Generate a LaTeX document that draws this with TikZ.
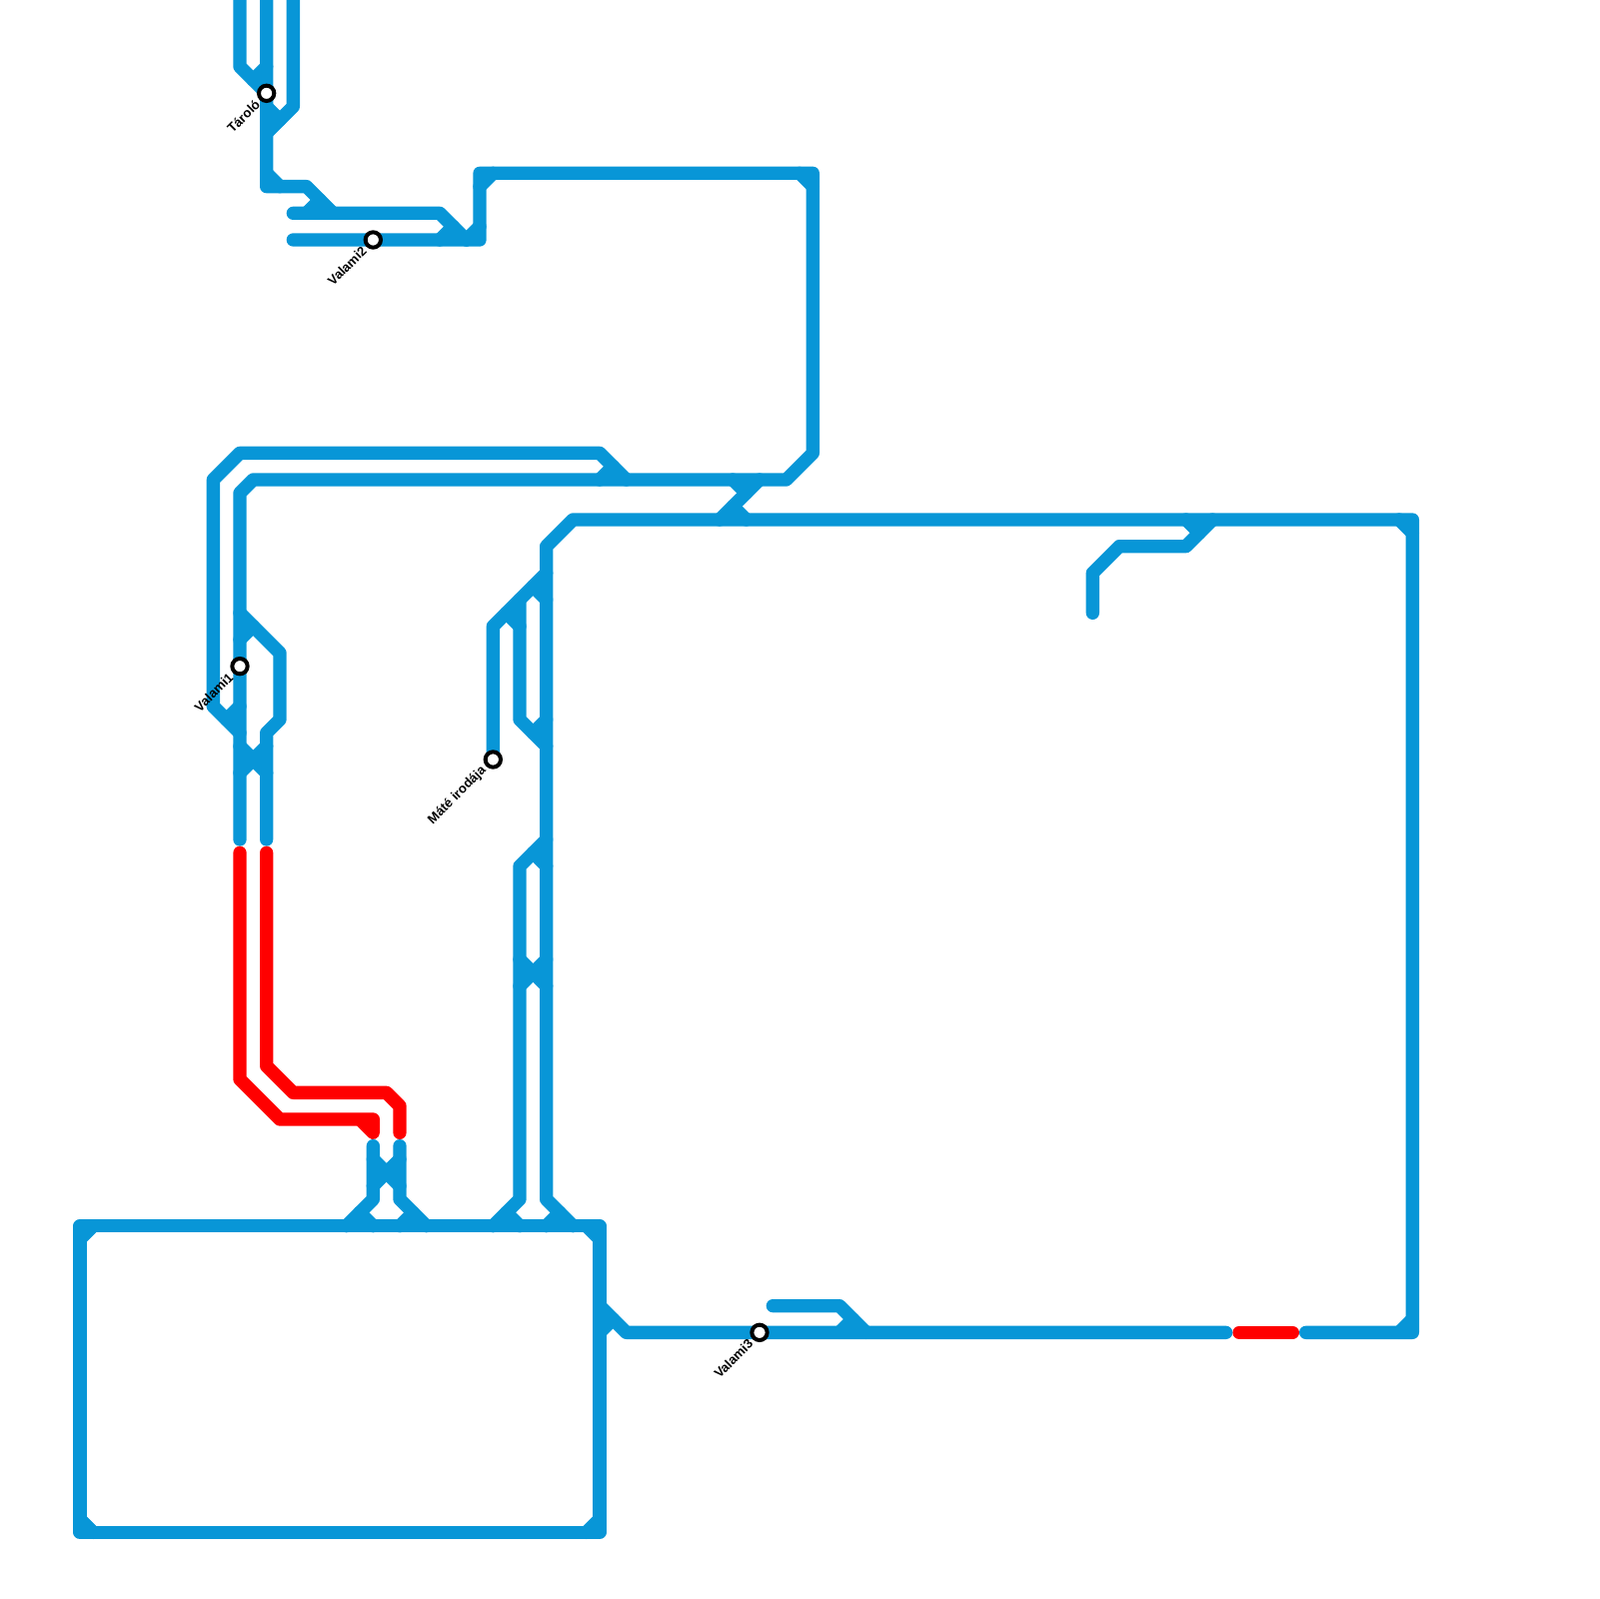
\documentclass[tikz,border=0pt]{standalone}
\usepackage{fontspec}
\setmainfont{Liberation Sans}
\definecolor{metroblue}{RGB}{8,150,215}
\definecolor{metrored}{RGB}{255,0,0}
\tikzset{
  blueline/.style={draw=metroblue, line width=2mm, line cap=round, line join=round},
  redline/.style={draw=metrored, line width=2mm, line cap=round, line join=round},
  stop/.style={draw=black, fill=white, circle, line width=0.6mm, minimum size=2.3mm, inner sep=0pt},
  stopname/.style={font=\fontsize{5.55}{6}\selectfont\bfseries, anchor=east, rotate=45, inner sep=0pt},
}
\begin{document}
\begin{tikzpicture}[x=2mm, y=-2mm]
\useasboundingbox (0,0) rectangle (120,120);

% Top fork
\draw[blueline] (18,-1) -- (18,5) -- (20,7);
\draw[blueline] (20,-1) -- (20,14) -- (23,14) -- (25,16);
\draw[blueline] (22,-1) -- (22,8) -- (20,10);
\draw[blueline] (20,5) -- (19,6);
\draw[blueline] (20,8) -- (21,9);
\draw[blueline] (20,13) -- (21,14);
\draw[blueline] (24,15) -- (23,16);

% Long loop to the left cluster
\draw[blueline] (22,16) -- (33,16) -- (35,18);
\draw[blueline] (22,18) -- (36,18) -- (36,13) -- (61,13) -- (61,34) -- (59,36) -- (19,36) -- (18,37) -- (18,63);
\draw[blueline] (34,17) -- (33,18);
\draw[blueline] (35,18) -- (36,17);
\draw[blueline] (36,14) -- (37,13);
\draw[blueline] (60,13) -- (61,14);

% Left cluster
\draw[blueline] (16,53) -- (16,36) -- (18,34) -- (45,34) -- (47,36);
\draw[blueline] (46,35) -- (45,36);
\draw[blueline] (16,53) -- (18,55);
\draw[blueline] (17,54) -- (18,53);
\draw[blueline] (18,46) -- (21,49) -- (21,54) -- (20,55) -- (20,63);
\draw[blueline] (19,47) -- (18,48);
\draw[blueline] (18,56) -- (20,58);
\draw[blueline] (20,56) -- (18,58);

% Crossing to the upper long line
\draw[blueline] (54,39) -- (57,36);
\draw[blueline] (55,36) -- (56,37);
\draw[blueline] (55,38) -- (56,39);

% Red sections
\draw[redline] (18,64) -- (18,81) -- (21,84) -- (28,84) -- (28,85) -- (27,84);
\draw[redline] (20,64) -- (20,80) -- (22,82) -- (29,82) -- (30,83) -- (30,85);
\draw[redline] (93,100) -- (97,100);

% Short pair above the box
\draw[blueline] (28,86) -- (28,90) -- (26,92);
\draw[blueline] (30,86) -- (30,90) -- (32,92);
\draw[blueline] (28,87) -- (30,89);
\draw[blueline] (30,87) -- (28,89);
\draw[blueline] (27,91) -- (28,92);
\draw[blueline] (31,91) -- (30,92);

% Box
\draw[blueline] (6,92) -- (45,92) -- (45,115) -- (6,115) -- cycle;
\draw[blueline] (6,93) -- (7,92);
\draw[blueline] (45,93) -- (44,92);
\draw[blueline] (6,114) -- (7,115);
\draw[blueline] (45,114) -- (44,115);

% Vertical pair
\draw[blueline] (37,57) -- (37,47) -- (41,43);
\draw[blueline] (38,46) -- (39,47);
\draw[blueline] (39,45) -- (39,54) -- (41,56);
\draw[blueline] (40,44) -- (41,45);
\draw[blueline] (40,55) -- (41,54);
\draw[blueline] (41,63) -- (39,65) -- (39,90) -- (37,92);
\draw[blueline] (40,64) -- (41,65);
\draw[blueline] (39,72) -- (41,74);
\draw[blueline] (41,72) -- (39,74);
\draw[blueline] (38,91) -- (39,92);
\draw[blueline] (42,91) -- (41,92);
\draw[blueline] (43,92) -- (41,90) -- (41,41) -- (43,39) -- (106,39) -- (106,100) -- (98,100);
\draw[blueline] (105,39) -- (106,40);
\draw[blueline] (105,100) -- (106,99);

% Branch from the upper long line
\draw[blueline] (82,46) -- (82,43) -- (84,41) -- (89,41) -- (91,39);
\draw[blueline] (89,39) -- (90,40);

% Lower long line
\draw[blueline] (45,98) -- (47,100) -- (92,100);
\draw[blueline] (46,99) -- (45,100);
\draw[blueline] (58,98) -- (63,98) -- (65,100);
\draw[blueline] (64,99) -- (63,100);

% Stations
\node[stop] (taroloo) at (20,7) {};
\node[stop] (valami1) at (18,50) {};
\node[stop] (valami2) at (28,18) {};
\node[stop] (valami3) at (57,100) {};
\node[stop] (mate) at (37,57) {};

% Station names
\node[stopname] (tarolooname) at (19.35,7.65) {Tároló};
\node[stopname] (valami1name) at (17.35,50.65) {Valami1};
\node[stopname] (valami2name) at (27.35,18.65) {Valami2};
\node[stopname] (valami3name) at (56.35,100.65) {Valami3};
\node[stopname] (matename) at (36.35,57.65) {Máté irodája};

\end{tikzpicture}
\end{document}
